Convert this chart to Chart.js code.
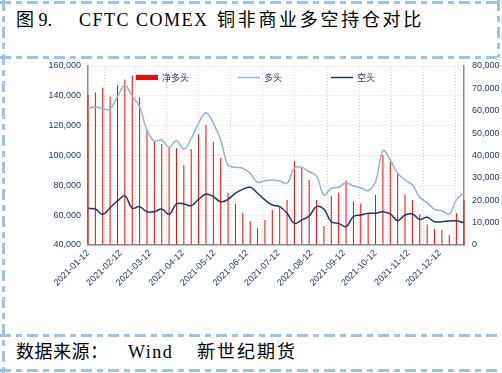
<!DOCTYPE html>
<html>
<head>
<meta charset="utf-8">
<script src="https://cdn.jsdelivr.net/npm/chart.js@4.4.1/dist/chart.umd.min.js"></script>
<style>
  html, body { margin: 0; padding: 0; background: #fff; }
  #wrap { position: relative; width: 502px; height: 373px; overflow: hidden; }
  #frame, #chart { position: absolute; left: 0; top: 0; }
  .txt { position: absolute; font-family: "Liberation Serif", "Noto Sans CJK SC", serif; font-size: 18px; color: #000; white-space: nowrap; line-height: 1; }
</style>
</head>
<body>
<div id="wrap">
  <svg id="frame" width="502" height="373">
    <g stroke="#9DC3E6" stroke-width="3" stroke-dasharray="11 5 6 5" fill="none">
      <line x1="0" y1="2.5" x2="502" y2="2.5"/>
      <line x1="0" y1="57.5" x2="502" y2="57.5"/>
      <line x1="0" y1="335.5" x2="502" y2="335.5"/>
      <line x1="0" y1="370.5" x2="502" y2="370.5"/>
      <line x1="3.5" y1="0" x2="3.5" y2="373"/>
      <line x1="498.5" y1="0" x2="498.5" y2="57"/>
    </g>
  </svg>
  <div class="txt" style="left:16px; top:11px;">图 9.</div>
  <div class="txt" style="left:79px; top:11px; letter-spacing:1.5px;">CFTC COMEX</div>
  <div class="txt" style="left:217px; top:11px; letter-spacing:2.7px;">铜非商业多空持仓对比</div>
  <div class="txt" style="left:16px; top:343px; letter-spacing:0.5px;">数据来源：</div>
  <div class="txt" style="left:128px; top:343px; letter-spacing:1.5px;">Wind</div>
  <div class="txt" style="left:197px; top:343px; letter-spacing:2px;">新世纪期货</div>
  <canvas id="chart" width="502" height="373"></canvas>
</div>
<script>
// weekly CFTC report dates
const weekDates = [
  '2021-01-12', '2021-01-19', '2021-01-26', '2021-02-02', '2021-02-09', '2021-02-16', '2021-02-23',
  '2021-03-02', '2021-03-09', '2021-03-16', '2021-03-23', '2021-03-30', '2021-04-06', '2021-04-13',
  '2021-04-20', '2021-04-27', '2021-05-04', '2021-05-11', '2021-05-18', '2021-05-25', '2021-06-01',
  '2021-06-08', '2021-06-15', '2021-06-22', '2021-06-29', '2021-07-06', '2021-07-13', '2021-07-20',
  '2021-07-27', '2021-08-03', '2021-08-10', '2021-08-17', '2021-08-24', '2021-08-31', '2021-09-07',
  '2021-09-14', '2021-09-21', '2021-09-28', '2021-10-05', '2021-10-12', '2021-10-19', '2021-10-26',
  '2021-11-02', '2021-11-09', '2021-11-16', '2021-11-23', '2021-11-30', '2021-12-07', '2021-12-14',
  '2021-12-21', '2021-12-28', '2022-01-04'
];

// 多头 (left axis)
const longPos = [
  131600, 132500, 131300, 131200, 139400, 147000, 139900, 132700, 117000, 109700,
  110400, 105500, 109900, 104300, 111500, 121600, 128700, 121600, 110400, 93600,
  92100, 91400, 88100, 82000, 83100, 83600, 82900, 81400, 91400, 92100,
  89100, 86300, 73500, 78000, 78700, 81800, 79500, 78400, 76400, 82400,
  103200, 97000, 88100, 83600, 80200, 72000, 68400, 63900, 63000, 60800,
  70600, 74700
];

// 空头 (left axis)
const shortPos = [
  64600, 64100, 60600, 65000, 69500, 72900, 64600, 65700, 62300, 62300,
  64100, 60600, 67500, 67500, 66400, 70600, 74200, 72400, 69000, 70600,
  74700, 77300, 78700, 74700, 70200, 66800, 65700, 61300, 54500, 56800,
  59400, 65700, 63900, 55600, 54500, 52300, 59000, 60100, 61300, 61300,
  62300, 60800, 56300, 60100, 60800, 57200, 58600, 55600, 55600, 56100,
  56100, 55000
];

// 净多头 (right axis)
const netLong = [
  67000, 68200, 70300, 66300, 71500, 74000, 75700, 65900, 51400, 46500,
  45100, 43400, 43200, 35800, 42900, 49500, 53600, 46200, 38900, 23400,
  18300, 14400, 10600, 7500, 11200, 15600, 17100, 20100, 37500, 34700,
  29100, 20100, 8500, 21900, 23400, 28800, 19400, 18600, 14200, 22400,
  40200, 37200, 32300, 22700, 20100, 13700, 9200, 7200, 6700, 4500,
  14200, 20100
];

const xTickLabels = [
  '2021-01-12', '2021-02-12', '2021-03-12', '2021-04-12', '2021-05-12', '2021-06-12',
  '2021-07-12', '2021-08-12', '2021-09-12', '2021-10-12', '2021-11-12', '2021-12-12'
];

const labelColor = '#1F3A68';

function dayOf(d) {
  return (Date.parse(d) - Date.parse(weekDates[0])) / 86400000;
}
const toPoints = vals => vals.map((v, i) => ({ x: dayOf(weekDates[i]), y: v }));

// legend sits inside the plot area, like the original
const insideLegend = {
  id: 'insideLegend',
  afterDraw(chart) {
    const ctx = chart.ctx;
    const a = chart.chartArea;
    const offsets = [48, 150, 243];
    const y = a.top + 11.5;
    chart.data.datasets.forEach((ds, i) => {
      const x = a.left + offsets[i];
      ctx.save();
      if (ds.type === 'bar') {
        ctx.fillStyle = ds.backgroundColor;
        ctx.fillRect(x, y - 2.5, 22, 5);
      } else {
        ctx.strokeStyle = ds.borderColor;
        ctx.lineWidth = 1.5;
        ctx.beginPath();
        ctx.moveTo(x, y);
        ctx.lineTo(x + 22, y);
        ctx.stroke();
      }
      ctx.fillStyle = labelColor;
      ctx.font = '9px "Noto Sans CJK SC"';
      ctx.textBaseline = 'middle';
      ctx.fillText(ds.label, x + 26, y);
      ctx.restore();
    });
  }
};

Chart.defaults.font.family = '"Liberation Sans", Arial, sans-serif';
Chart.defaults.font.size = 9;
Chart.defaults.color = labelColor;

const gridOpts = { color: '#D4D4D4', lineWidth: 1, drawTicks: false };
const borderOpts = { color: '#8C8C8C', width: 1.5, dash: [1, 2] };

new Chart(document.getElementById('chart').getContext('2d'), {
  type: 'bar',
  data: {
    datasets: [
      {
        type: 'bar',
        label: '净多头',
        data: toPoints(netLong),
        yAxisID: 'y1',
        backgroundColor: '#FF0000',
        barThickness: 1,
        inflateAmount: 0,
        clip: false,
        order: 3
      },
      {
        type: 'line',
        label: '多头',
        data: toPoints(longPos),
        yAxisID: 'y',
        borderColor: '#95B3D7',
        borderWidth: 1.5,
        pointRadius: 0,
        tension: 0.4,
        order: 2
      },
      {
        type: 'line',
        label: '空头',
        data: toPoints(shortPos),
        yAxisID: 'y',
        borderColor: '#1F3864',
        borderWidth: 1.5,
        pointRadius: 0,
        tension: 0.4,
        order: 1
      }
    ]
  },
  options: {
    responsive: false,
    animation: false,
    layout: { padding: { left: 0, right: 0, top: 66, bottom: 68 } },
    plugins: {
      legend: { display: false },
      tooltip: { enabled: false }
    },
    scales: {
      x: {
        type: 'linear',
        min: 0,
        max: dayOf(weekDates[weekDates.length - 1]),
        offset: false,
        afterBuildTicks: s => { s.ticks = xTickLabels.map(d => ({ value: dayOf(d) })); },
        afterFit: s => { s.height = 60; },
        ticks: {
          autoSkip: false,
          maxRotation: 45,
          minRotation: 45,
          padding: 3,
          callback: (v, i) => xTickLabels[i]
        },
        grid: gridOpts,
        border: borderOpts
      },
      y: {
        position: 'left',
        min: 40000,
        max: 160000,
        afterFit: s => { s.width = 88; },
        ticks: { stepSize: 20000, padding: 7 },
        grid: gridOpts,
        border: borderOpts
      },
      y1: {
        position: 'right',
        min: 0,
        max: 80000,
        afterFit: s => { s.width = 38; },
        ticks: { stepSize: 10000, padding: 8 },
        grid: { drawOnChartArea: false, drawTicks: false },
        border: { color: '#8C8C8C', width: 1.5 }
      }
    }
  },
  plugins: [insideLegend]
});
</script>
</body>
</html>
